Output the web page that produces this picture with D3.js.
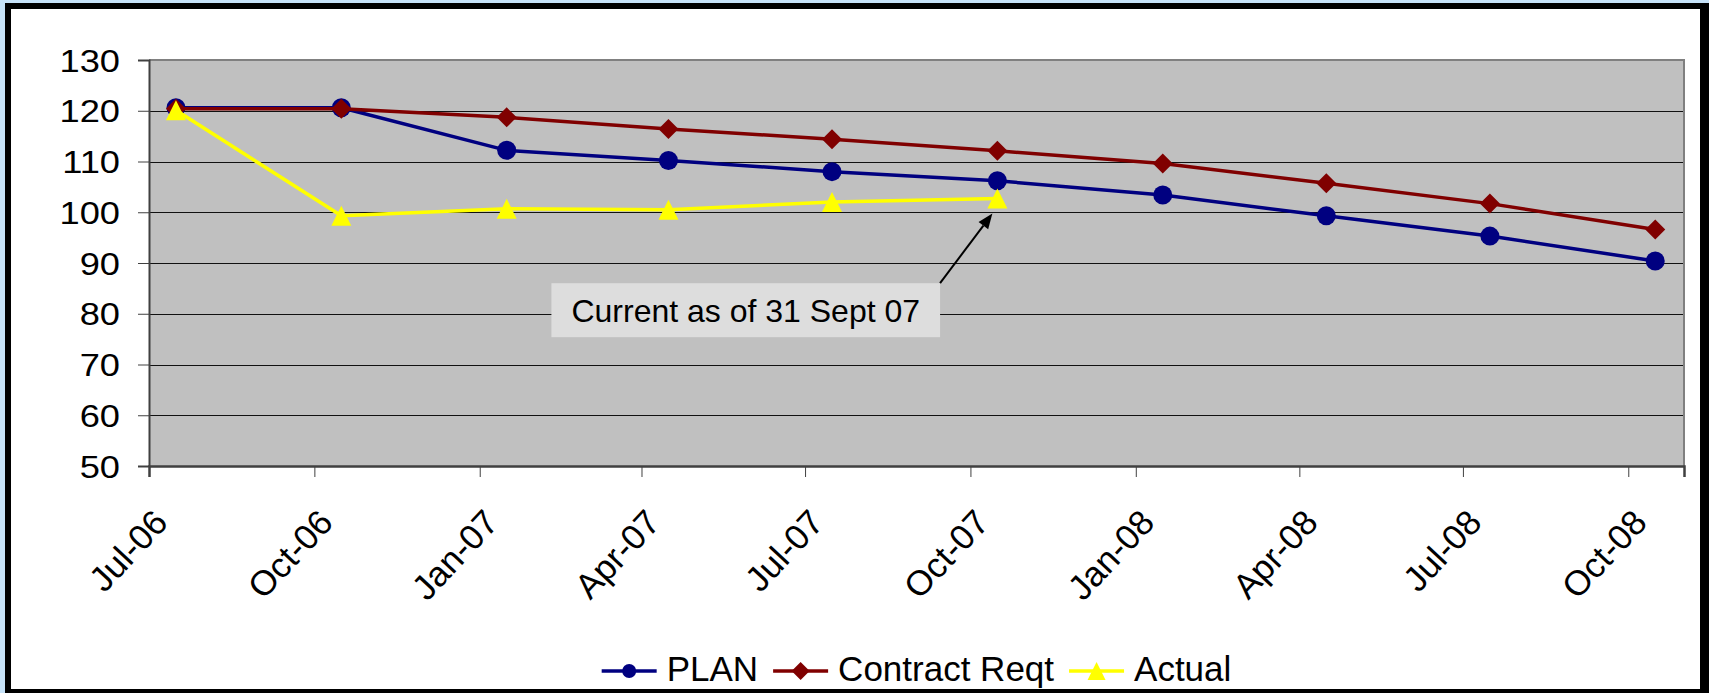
<!DOCTYPE html>
<html>
<head>
<meta charset="utf-8">
<script src="https://cdn.jsdelivr.net/npm/d3@7"></script>
<style>
  html, body { margin: 0; padding: 0; background: #fff; overflow: hidden; }
  text { font-family: "Liberation Sans", Arial, sans-serif; fill: #000; }
</style>
</head>
<body>
<script>
// data
const pointDates = ['2006-07-16', '2006-10-16', '2007-01-16', '2007-04-16', '2007-07-16',
                    '2007-10-16', '2008-01-16', '2008-04-16', '2008-07-16', '2008-10-16'];
const planValues = [120.6, 120.6, 112.2, 110.2, 108.0, 106.2, 103.4, 99.3, 95.3, 90.4];
const contractValues = [120.4, 120.4, 118.7, 116.4, 114.4, 112.1, 109.6, 105.7, 101.7, 96.6];
const actualValues = [120.1, 99.3, 100.7, 100.5, 102.0, 102.7];
const tickDates = ['2006-07-01', '2006-10-01', '2007-01-01', '2007-04-01', '2007-07-01',
                   '2007-10-01', '2008-01-01', '2008-04-01', '2008-07-01', '2008-10-01'];
const tickLabels = ['Jul-06', 'Oct-06', 'Jan-07', 'Apr-07', 'Jul-07',
                    'Oct-07', 'Jan-08', 'Apr-08', 'Jul-08', 'Oct-08'];
const yTicks = [50, 60, 70, 80, 90, 100, 110, 120, 130];
const seriesNames = ['PLAN', 'Contract Reqt', 'Actual'];
const annotationText = 'Current as of 31 Sept 07';

const W = 1709, H = 693;
const plot = {left: 149, top: 60, right: 1684, bottom: 466};

const svg = d3.select('body').append('svg')
    .attr('width', W)
    .attr('height', H);

// slide frame
svg.append('rect').attr('width', W).attr('height', H).attr('fill', '#c6e2f8');
svg.append('rect').attr('x', 5).attr('y', 3).attr('width', W - 5).attr('height', H - 3).attr('fill', '#000');
svg.append('rect').attr('x', 11).attr('y', 9).attr('width', 1689).attr('height', 680).attr('fill', '#fff');

const x = d3.scaleUtc()
    .domain([new Date('2006-07-01'), new Date('2008-11-01')])
    .range([plot.left, plot.right]);
const y = d3.scaleLinear()
    .domain([50, 130])
    .range([plot.bottom, plot.top]);

// plot area
svg.append('rect')
    .attr('x', plot.left).attr('y', plot.top)
    .attr('width', plot.right - plot.left).attr('height', plot.bottom - plot.top)
    .attr('fill', '#c0c0c0');

// gridlines
svg.append('g')
    .selectAll('line')
    .data(yTicks.filter(v => v > 50 && v < 130))
    .enter().append('line')
    .attr('x1', plot.left).attr('x2', plot.right)
    .attr('y1', d => Math.round(y(d)) + 0.5).attr('y2', d => Math.round(y(d)) + 0.5)
    .attr('stroke', '#111').attr('stroke-width', 1);

// plot border (top/right)
svg.append('path')
    .attr('d', `M${plot.left},${plot.top}H${plot.right}V${plot.bottom}`)
    .attr('fill', 'none').attr('stroke', '#808080').attr('stroke-width', 2);

// y axis
const yAxis = svg.append('g')
    .attr('transform', `translate(${plot.left},0)`)
    .call(d3.axisLeft(y).tickValues(yTicks).tickSize(11).tickPadding(0).tickFormat(d3.format('d')));
yAxis.select('.domain').attr('stroke', '#404040').attr('stroke-width', 2);
yAxis.selectAll('.tick line').attr('stroke', '#404040');
yAxis.selectAll('.tick text')
    .attr('x', 0)
    .attr('dy', '0.36em')
    .attr('transform', 'translate(-29,0) scale(1.17,1)')
    .style('font-size', '31px')
    .style('font-family', '"Liberation Sans", Arial, sans-serif')
    .attr('fill', '#000');

// x axis
const xAxis = svg.append('g')
    .attr('transform', `translate(0,${plot.bottom})`)
    .call(d3.axisBottom(x).tickValues(tickDates.map(d => new Date(d))).tickSize(11)
        .tickFormat((d, i) => tickLabels[i]));
xAxis.select('.domain').attr('stroke', '#404040').attr('stroke-width', 2.5);
xAxis.selectAll('.tick line').attr('stroke', '#404040');
xAxis.selectAll('.tick text')
    .attr('y', 0).attr('dy', 0)
    .attr('transform', 'translate(20,58) rotate(-47)')
    .attr('text-anchor', 'end')
    .style('font-size', '35px')
    .style('font-family', '"Liberation Sans", Arial, sans-serif')
    .attr('fill', '#000');

// series
const series = [
    {name: seriesNames[0], values: planValues, color: '#000080', shape: 'circle'},
    {name: seriesNames[1], values: contractValues, color: '#800000', shape: 'diamond'},
    {name: seriesNames[2], values: actualValues, color: '#ffff00', shape: 'triangle'}
];

function marker(g, shape, color, size) {
    if (shape === 'circle') {
        g.append('circle').attr('r', size).attr('fill', color);
    } else if (shape === 'diamond') {
        g.append('path').attr('d', `M0,${-size}L${size},0L0,${size}L${-size},0Z`).attr('fill', color);
    } else {
        g.append('path').attr('d', `M0,${-size}L${size},${size}L${-size},${size}Z`).attr('fill', color);
    }
}

const line = d3.line()
    .x(d => x(d.date))
    .y(d => y(d.value));

series.forEach(s => {
    const pts = s.values.map((v, i) => ({date: new Date(pointDates[i]), value: v}));
    svg.append('path')
        .datum(pts)
        .attr('d', line)
        .attr('fill', 'none')
        .attr('stroke', s.color)
        .attr('stroke-width', 3.5)
        .attr('stroke-linejoin', 'round');
    svg.append('g')
        .selectAll('g')
        .data(pts)
        .enter().append('g')
        .attr('transform', d => `translate(${x(d.date)},${y(d.value)})`)
        .each(function() { marker(d3.select(this), s.shape, s.color, s.shape === 'circle' ? 9.5 : 10); });
});

// annotation box with arrow to latest actual value
const last = actualValues.length - 1;
const target = {x: x(new Date(pointDates[last])), y: y(actualValues[last])};
const boxCx = x(new Date('2007-05-29'));
const boxCy = y(80.7);
const ann = svg.append('g');
const annRect = ann.append('rect').attr('fill', '#dddddd');
const annText = ann.append('text')
    .attr('x', boxCx).attr('y', boxCy)
    .attr('dy', '0.36em')
    .attr('text-anchor', 'middle')
    .style('font-size', '32px')
    .text(annotationText);
const tw = annText.node().getComputedTextLength();
const bw = tw + 40, bh = 54;
annRect.attr('x', boxCx - bw / 2).attr('y', boxCy - bh / 2).attr('width', bw).attr('height', bh);

const start = {x: boxCx + bw / 2, y: boxCy - bh / 2};
const tip = {x: target.x - 5, y: target.y + 15};
const ang = Math.atan2(tip.y - start.y, tip.x - start.x);
const headLen = 15, headW = 6;
const base = {x: tip.x - headLen * Math.cos(ang), y: tip.y - headLen * Math.sin(ang)};
ann.append('line')
    .attr('x1', start.x).attr('y1', start.y)
    .attr('x2', base.x).attr('y2', base.y)
    .attr('stroke', '#000').attr('stroke-width', 2);
ann.append('path')
    .attr('d', `M${tip.x},${tip.y}L${base.x + headW * Math.sin(ang)},${base.y - headW * Math.cos(ang)}L${base.x - headW * Math.sin(ang)},${base.y + headW * Math.cos(ang)}Z`)
    .attr('fill', '#000');

// legend
const legend = svg.append('g');
const legendY = 671;
let cursor = 0;
series.forEach((s, i) => {
    const item = legend.append('g').attr('transform', `translate(${cursor},0)`);
    item.append('line').attr('x1', 0).attr('x2', 55).attr('y1', legendY).attr('y2', legendY)
        .attr('stroke', s.color).attr('stroke-width', 3.5);
    const m = item.append('g').attr('transform', `translate(27.5,${legendY})`);
    marker(m, s.shape, s.color, s.shape === 'circle' ? 7 : 9);
    const t = item.append('text')
        .attr('x', 65).attr('y', legendY - 3)
        .attr('dy', '0.36em')
        .style('font-size', '35px')
        .text(s.name);
    cursor += 65 + t.node().getComputedTextLength() + 15;
});
const legendW = cursor - 15;
legend.attr('transform', `translate(${(plot.left + plot.right) / 2 - legendW / 2},0)`);
</script>
</body>
</html>
